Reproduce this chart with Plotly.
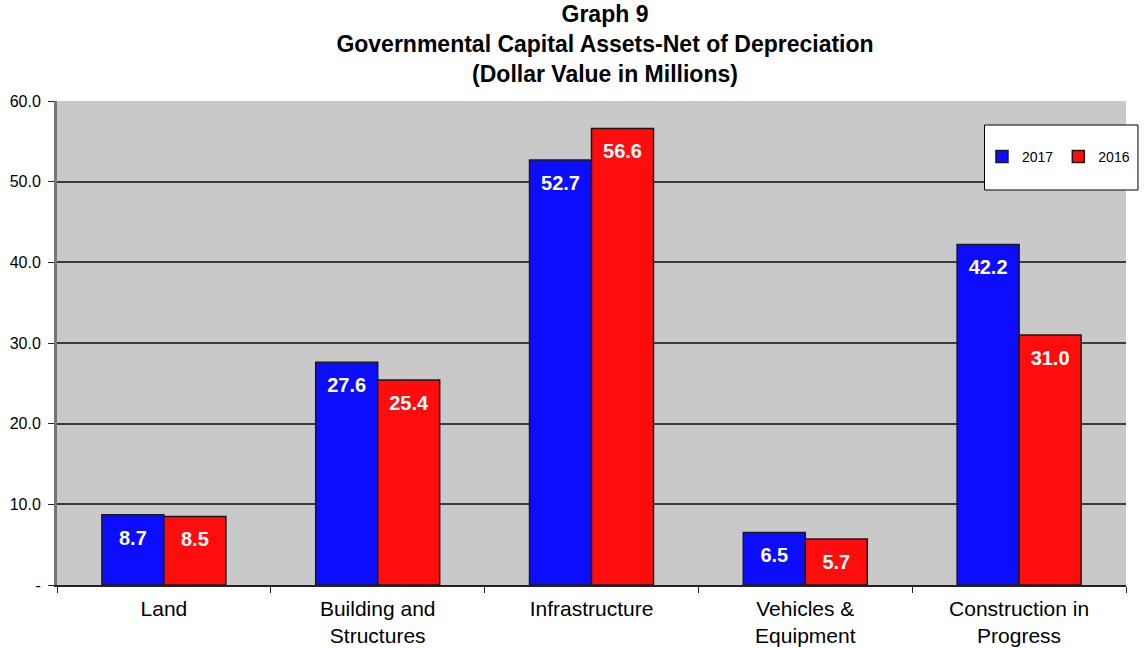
import plotly.graph_objects as go

categories = ["Land", "Building and<br>Structures", "Infrastructure",
              "Vehicles &<br>Equipment", "Construction in<br>Progress"]
values_2017 = [8.7, 27.6, 52.7, 6.5, 42.2]
values_2016 = [8.5, 25.4, 56.6, 5.7, 31.0]
series_names = ["2017", "2016"]
tick_vals = [0, 10, 20, 30, 40, 50, 60]
tick_text = ["-", "10.0", "20.0", "30.0", "40.0", "50.0", "60.0"]

FONT = "Liberation Sans, Arial, sans-serif"
colors = ["#0c0cff", "#ff0c0c"]

fig = go.Figure()
for name, vals, color in zip(series_names, [values_2017, values_2016], colors):
    fig.add_trace(go.Bar(
        name=name, x=categories, y=vals,
        marker=dict(color=color, line=dict(color="#1a1a1a", width=1.5)),
        hoverinfo="x+y",
    ))
# value labels, grouped like the bars and placed just inside the bar tops
for name, vals in zip(series_names, [values_2017, values_2016]):
    fig.add_trace(go.Scatter(
        x=categories, y=vals, mode="markers+text",
        marker=dict(size=22, opacity=0),
        text=[f"{v:.1f}" for v in vals], textposition="bottom center",
        textfont=dict(family=FONT, size=20, color="white", weight="bold"),
        showlegend=False, hoverinfo="skip",
    ))

px_x = lambda p: (p - 57) / 1073
px_y = lambda p: (585 - p) / 484

fig.update_layout(
    width=1147, height=648,
    margin=dict(l=57, r=17, t=101, b=63),
    paper_bgcolor="white", plot_bgcolor="#c9c9c9",
    barmode="group", bargap=0.42, bargroupgap=0,
    scattermode="group", scattergap=0.42,
    font=dict(family=FONT, color="black"),
    title=dict(
        text="<b>Graph 9<br>Governmental Capital Assets-Net of Depreciation<br>(Dollar Value in Millions)</b>",
        font=dict(family=FONT, size=23, color="black"),
        x=605 / 1147, xanchor="center", xref="container",
        y=1 - 22 / 648, yanchor="middle", yref="container",
    ),
    legend=dict(
        orientation="h", x=px_x(1139), xanchor="right",
        y=px_y(157), yanchor="middle",
        bgcolor="rgba(0,0,0,0)", borderwidth=0,
        font=dict(family=FONT, size=14, color="black"),
        itemwidth=30,
    ),
    shapes=[dict(
        type="rect", xref="paper", yref="paper",
        x0=px_x(988), x1=px_x(1142), y0=px_y(190), y1=px_y(125),
        fillcolor="white", line=dict(color="black", width=1), layer="above",
    )],
    xaxis=dict(
        showline=True, linecolor="#222", linewidth=1.5,
        ticks="outside", tickson="boundaries", ticklen=6, tickcolor="#222",
        tickfont=dict(family=FONT, size=21, color="black"),
        ticklabelstandoff=4,
        showgrid=False, automargin=False,
    ),
    yaxis=dict(
        range=[0, 60], tickvals=tick_vals, ticktext=tick_text,
        showgrid=True, gridcolor="#3c3c3c", gridwidth=2,
        showline=True, linecolor="#777777", linewidth=3,
        ticks="outside", ticklen=6, tickcolor="#222",
        tickfont=dict(family=FONT, size=16, color="black"),
        ticklabelstandoff=4,
        zeroline=False, automargin=False,
    ),
)

fig.write_html("out.html")
